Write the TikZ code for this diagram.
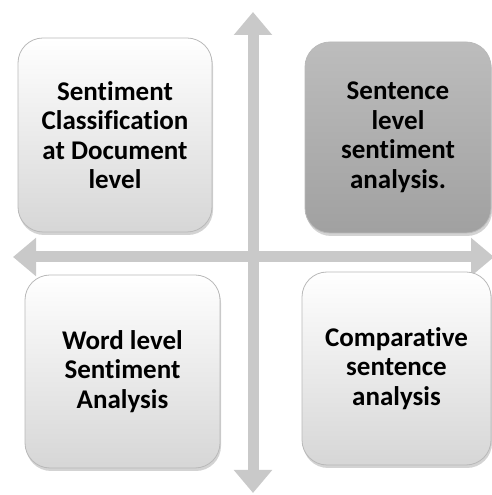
\documentclass[tikz,border=0pt]{standalone}
\usepackage{fontspec}
\setmainfont[Ligatures=NoCommon]{Carlito}
\usetikzlibrary{arrows.meta,shadows}

\begin{document}
\begin{tikzpicture}[x=1pt,y=1pt,
    axis/.style={draw=gray!42, line width=11pt,
      {Triangle[width=37pt,length=23pt]}-{Triangle[width=37pt,length=23pt]}},
    quad/.style={rounded corners=25pt, draw=gray!55, line width=0.8pt,
      align=center, font=\bfseries\fontsize{27}{29.5}\selectfont,
      inner sep=0pt, top color=white, bottom color=gray!32,
      drop shadow={shadow xshift=1pt, shadow yshift=-3pt, opacity=0.35}},
    dark/.style={top color=gray!52, bottom color=gray!74}]
    \useasboundingbox (0,0) rectangle (491,495);
    \coordinate (N) at (253,483);
    \coordinate (S) at (253,2);
    \coordinate (W) at (13,238);
    \coordinate (E) at (494,238);
\draw [axis] (S) to (N);
\draw [axis] (W) to (E);
\node [quad, minimum width=194pt, minimum height=194pt] (doc) at (115,360)
    {Sentiment\\Classification\\at Document\\level};
\node [quad, dark, minimum width=186pt, minimum height=191pt] (sent) at (398,357.5)
    {Sentence\\level\\sentiment\\analysis.};
\node [quad, minimum width=195pt, minimum height=193pt] (word) at (122.5,123.5)
    {Word level\\Sentiment\\Analysis};
\node [quad, minimum width=189pt, minimum height=193pt] (comp) at (396.5,126.5)
    {Comparative\\sentence\\analysis};
  \end{tikzpicture}
\end{document}
